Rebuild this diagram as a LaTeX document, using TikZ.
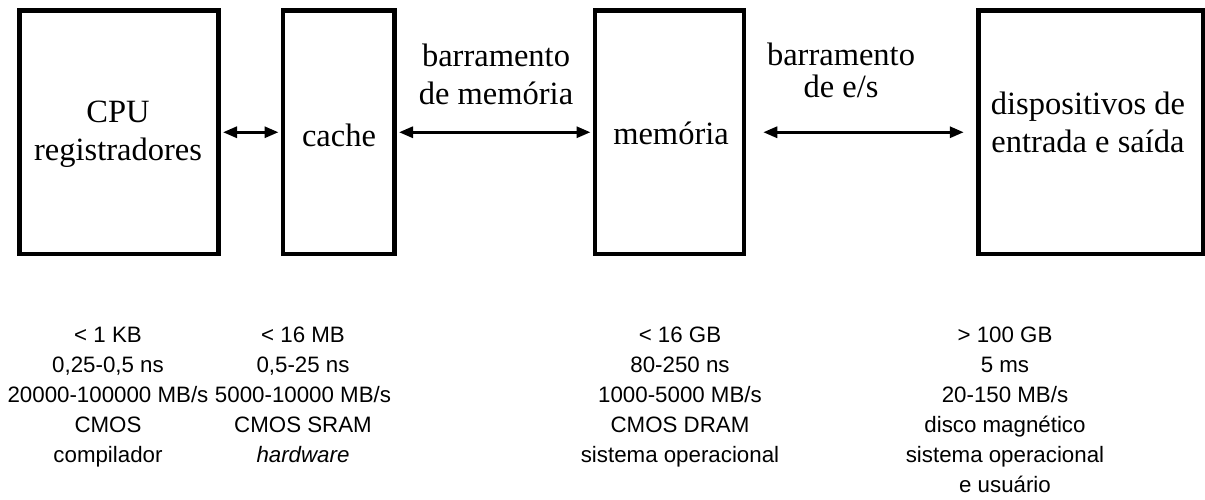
\documentclass[tikz,border=0pt]{standalone}
\usepackage{fontspec}
\setmainfont{Liberation Serif}
\setsansfont{Liberation Sans}
\usetikzlibrary{arrows.meta}

\tikzset{
  unitbox/.style={draw, line width=4.5pt, inner sep=0pt, minimum width=#1, minimum height=243.5pt},
  bus/.style={line width=3pt, {Triangle[length=14pt,width=11pt]}-{Triangle[length=14pt,width=11pt]}},
  % multi-line nodes: the base anchor sits on the last line
  toplabel/.style={font=\rmfamily\fontsize{32.5}{38}\selectfont, align=center, inner sep=0pt, anchor=base},
  specs/.style={font=\sffamily\fontsize{22.3}{30}\selectfont, align=center, inner sep=0pt, anchor=base}
}

\begin{document}
\begin{tikzpicture}[x=1pt, y=-1pt]
  \useasboundingbox (0,0) rectangle (1205,499);

  % hierarchy levels
  \node[unitbox=199pt]   (cpu)   at (119,132.25)     {};
  \node[unitbox=111.5pt] (cache) at (338.75,132.25)  {};
  \node[unitbox=149pt]   (mem)   at (669.5,132.25)   {};
  \node[unitbox=224.5pt] (dev)   at (1090.75,132.25) {};

  % names inside the levels
  \node[toplabel] (cpuname)   at (118,160)  {CPU\\registradores};
  \node[toplabel] (cachename) at (339,146)  {cache};
  \node[toplabel] (memname)   at (671,144)  {memória};
  \node[toplabel] (devname)   at (1088,152) {dispositivos de\\entrada e saída};

  % links between levels
  \draw[bus, shorten <=2.25pt, shorten >=2.25pt] (cpu.east) -- (cache.west);
  \draw[bus, shorten <=2.25pt, shorten >=2.25pt] (cache.east) -- (mem.west);
  \draw[bus, shorten <=17pt, shorten >=12.5pt] (mem.east) -- (dev.west);

  \node[toplabel] (membus) at (496,104) {barramento\\de memória};
  \node[toplabel] (iobus)  at (841,97)  {barramento\\[-6pt]de e/s};

  % size, access time, bandwidth, technology, manager
  \node[specs] (cpuspec)   at (108,462)  {< 1 KB\\0,25-0,5 ns\\20000-100000 MB/s\\CMOS\\compilador};
  \node[specs] (cachespec) at (303,462)  {< 16 MB\\0,5-25 ns\\5000-10000 MB/s\\CMOS SRAM\\\textit{hardware}};
  \node[specs] (memspec)   at (680,462)  {< 16 GB\\80-250 ns\\1000-5000 MB/s\\CMOS DRAM\\sistema operacional};
  \node[specs] (devspec)   at (1005,492) {> 100 GB\\5 ms\\20-150 MB/s\\disco magnético\\sistema operacional\\e usuário};
\end{tikzpicture}
\end{document}
